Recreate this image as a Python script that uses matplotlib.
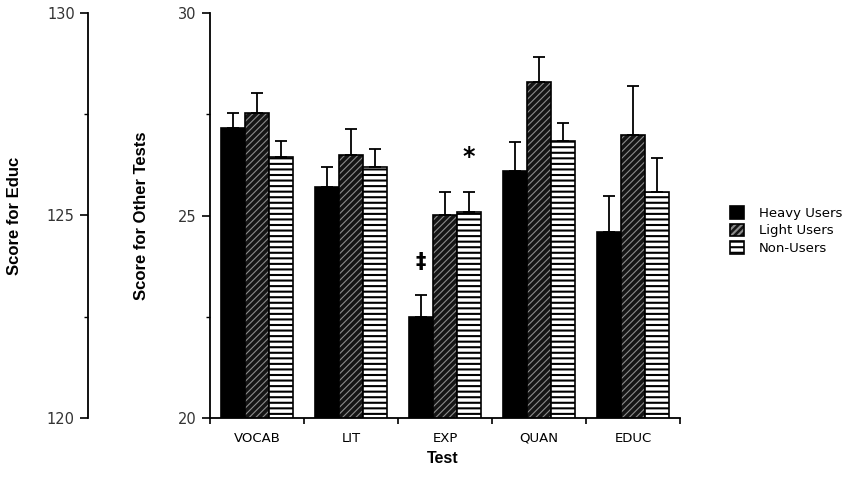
import numpy as np
import matplotlib
matplotlib.use("Agg")
from matplotlib import pyplot as plt

# group means and upper error bars (other tests on 20-30 scale)
tests = ["VOCAB", "LIT", "EXP", "QUAN"]
heavy = [27.15, 25.71, 22.50, 26.10]
light = [27.52, 26.49, 25.01, 28.29]
nonusers = [26.44, 26.20, 25.08, 26.84]
heavy_err = [0.39, 0.49, 0.54, 0.72]
light_err = [0.50, 0.64, 0.58, 0.62]
non_err = [0.41, 0.43, 0.51, 0.45]

# Educ is on its own 120-130 scale
educ_label = "EDUC"
educ_means = [124.60, 126.99, 125.59]
educ_err = [0.88, 1.21, 0.82]

groups = ["Heavy Users", "Light Users", "Non-Users"]

plt.rcParams['hatch.linewidth'] = 1.5

fig = plt.figure(figsize=(8.6, 4.97), dpi=100)
ax = fig.add_axes([210/860, 1 - 418/497, 470/860, 405/497])
ax_educ = ax.twinx()

w = 0.255
x = np.arange(len(tests))
xe = len(tests)

styles = [
    dict(color="black", edgecolor="black"),
    dict(color="#151515", edgecolor="#8c8c8c", hatch="/////"),
    dict(color="white", edgecolor="black", hatch="---"),
]
hatch_lw = [1.5, 0.8, 1.5]
err_kw = dict(ecolor="black", elinewidth=1.3, capsize=4, capthick=1.3)

handles = []
for i, (vals, errs) in enumerate([(heavy, heavy_err), (light, light_err), (nonusers, non_err)]):
    off = (i - 1) * w
    with plt.rc_context({'hatch.linewidth': hatch_lw[i]}):
        b = ax.bar(x + off, vals, w, linewidth=0, **styles[i])
        # educ bar for this group on the left-hand educ scale
        ax_educ.bar(xe + off, educ_means[i], w, linewidth=0, **styles[i])
    ax.errorbar(x + off, vals, yerr=[np.zeros(len(vals)), errs], fmt="none", **err_kw)
    outline = ax.bar(x + off, vals, w, fill=False, edgecolor="black", linewidth=1.2)
    ax_educ.errorbar(xe + off, educ_means[i], yerr=[[0], [educ_err[i]]], fmt="none", **err_kw)
    ax_educ.bar(xe + off, educ_means[i], w, fill=False, edgecolor="black", linewidth=1.2)
    handles.append((b, outline))

# significance marks over EXP
ax.text(x[2] - w, heavy[2] + heavy_err[2] + 0.8, "\u2021", ha="center", va="center",
        fontsize=15, fontweight="bold")
ax.text(x[2] + w, nonusers[2] + non_err[2] + 0.85, "*", ha="center", va="center",
        fontsize=17, fontweight="bold")

ax.set_ylim(20, 30)
ax_educ.set_ylim(120, 130)
ax.set_xlim(-0.5, 4.5)

for s in ["top", "right"]:
    ax.spines[s].set_visible(False)
ax.spines["left"].set_linewidth(1.3)
ax.spines["bottom"].set_linewidth(1.3)

tick_font = dict(labelsize=10.5, labelcolor="#333333")
ax.set_yticks([20, 25, 30])
ax.set_yticks([22.5, 27.5], minor=True)
ax.set_xticks(list(x) + [xe])
ax.set_xticklabels(tests + [educ_label])
ax.set_xticks(np.arange(-0.5, 5.0, 1.0), minor=True)
ax.tick_params(axis="x", which="major", length=0, pad=10, labelsize=9.5)
ax.tick_params(axis="x", which="minor", length=4, width=1.2, direction="out")
ax.tick_params(axis="y", which="major", length=6, width=1.2, **tick_font)
ax.tick_params(axis="y", which="minor", length=3, width=1.0)

# educ scale drawn as a separate spine further left (122 px = 87.84 pt)
for s in ["top", "right", "bottom"]:
    ax_educ.spines[s].set_visible(False)
ax_educ.spines["left"].set_visible(True)
ax_educ.spines["left"].set_position(("outward", 87.84))
ax_educ.spines["left"].set_linewidth(1.3)
ax_educ.yaxis.set_ticks_position("left")
ax_educ.yaxis.set_label_position("left")
ax_educ.set_yticks([120, 125, 130])
ax_educ.set_yticks([122.5, 127.5], minor=True)
ax_educ.tick_params(axis="y", which="major", length=6, width=1.2, **tick_font)
ax_educ.tick_params(axis="y", which="minor", length=3, width=1.0)

lab = dict(fontfamily="Liberation Sans", fontweight="bold", fontsize=12)
ax.set_ylabel("Score for Other Tests", **lab)
ax.yaxis.set_label_coords((149 - 210) / 470, 0.5)
ax_educ.set_ylabel("Score for Educ", **lab)
ax_educ.yaxis.set_label_coords((22 - 210) / 470, 0.5)
ax.set_xlabel("Test", fontfamily="Liberation Sans", fontweight="bold", fontsize=11.5)
ax.xaxis.set_label_coords((443 - 210) / 470, (418 - 451) / 405)

ax.set_zorder(ax_educ.get_zorder() + 1)
ax.patch.set_visible(False)

fig.legend(handles, groups, loc="upper left", bbox_to_anchor=(718/860, 1 - 194/497),
           frameon=False, fontsize=9.5, handlelength=1.1, handleheight=1.1,
           handletextpad=1.1, labelspacing=0.3)

fig.savefig("out.png", dpi=100)
